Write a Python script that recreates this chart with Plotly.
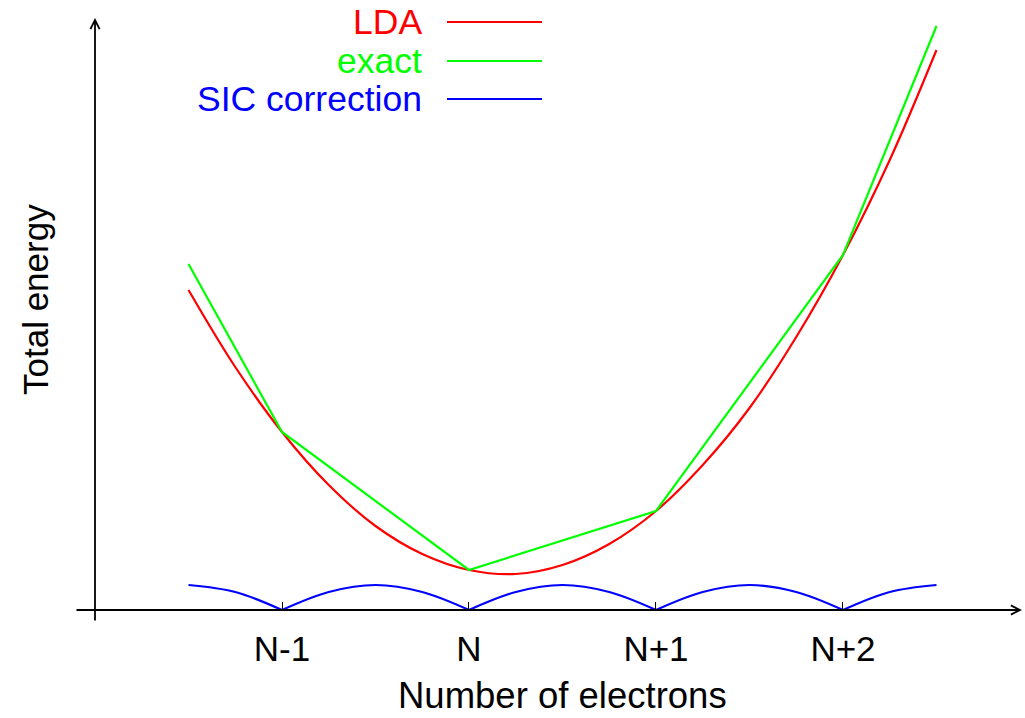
import plotly.graph_objects as go

# Number of electrons, relative to N
lda_n = [-1.5, -1.25, -1.0, -0.75, -0.5, -0.25, 0.0, 0.25, 0.5, 0.75,
         1.0, 1.25, 1.5, 1.75, 2.0, 2.25, 2.5]
lda_e = [3.20, 2.43, 1.78, 1.25, 0.84, 0.56, 0.40, 0.36, 0.45, 0.66,
         0.99, 1.45, 2.02, 2.73, 3.55, 4.50, 5.60]

exact_n = [-1.5, -1.0, 0.0, 1.0, 2.0, 2.5]
exact_e = [3.46, 1.78, 0.40, 0.99, 3.55, 5.84]

# SIC correction arcs, one per segment between integer electron numbers
sic_n = [[-1.5, -1.25, -1.0],
         [-1.0, -0.75, -0.5, -0.25, 0.0],
         [0.0, 0.25, 0.5, 0.75, 1.0],
         [1.0, 1.25, 1.5, 1.75, 2.0],
         [2.0, 2.25, 2.5]]
sic_e = [[0.25, 0.18, 0.0],
         [0.0, 0.18, 0.25, 0.18, 0.0],
         [0.0, 0.18, 0.25, 0.18, 0.0],
         [0.0, 0.18, 0.25, 0.18, 0.0],
         [0.0, 0.18, 0.25]]

tick_vals = [-1, 0, 1, 2]
tick_text = ["N-1", "N", "N+1", "N+2"]

series_names = ["LDA", "exact", "SIC correction"]
series_colors = ["#ff0000", "#00ff00", "#0000ff"]

FONT = "Liberation Sans, Arial, sans-serif"
W, H = 1025, 718

# axis ranges chosen so that the plot area fills the whole page
X0, X1 = -2.508, 2.9733
Y0, Y1 = -1.08, 6.10

sic_x, sic_y = [], []
for xs, ys in zip(sic_n, sic_e):
    sic_x += xs + [None]
    sic_y += ys + [None]

fig = go.Figure()
fig.add_trace(go.Scatter(x=lda_n, y=lda_e, mode="lines", name=series_names[0],
                         line=dict(color=series_colors[0], width=2.2, shape="spline")))
fig.add_trace(go.Scatter(x=exact_n, y=exact_e, mode="lines", name=series_names[1],
                         line=dict(color=series_colors[1], width=2.2)))
fig.add_trace(go.Scatter(x=sic_x, y=sic_y, mode="lines", name=series_names[2],
                         connectgaps=False,
                         line=dict(color=series_colors[2], width=2.2, shape="spline")))


def px_x(p):
    return X0 + (X1 - X0) * p / W


def px_y(p):
    return Y1 - (Y1 - Y0) * p / H


annotations = []
# axis arrows
annotations.append(dict(x=px_x(1022), y=0, ax=px_x(75), ay=0, xref="x", yref="y",
                        axref="x", ayref="y", showarrow=True, arrowhead=5,
                        arrowwidth=1.8, arrowsize=1.0, arrowcolor="black", text=""))
annotations.append(dict(x=-2, y=px_y(18), ax=-2, ay=px_y(622), xref="x", yref="y",
                        axref="x", ayref="y", showarrow=True, arrowhead=5,
                        arrowwidth=1.8, arrowsize=1.0, arrowcolor="black", text=""))
# axis titles
annotations.append(dict(x=px_x(562), y=px_y(718), xref="x", yref="y",
                        xanchor="center", yanchor="bottom",
                        text="Number of electrons", showarrow=False,
                        font=dict(family=FONT, size=36.5, color="black")))
annotations.append(dict(x=px_x(35), y=px_y(300), xref="x", yref="y",
                        text="Total energy", showarrow=False, textangle=-90,
                        font=dict(family=FONT, size=35, color="black")))

# legend: labels right-aligned, line samples to their right
shapes = []
legend_y = [22, 61, 99]
for name, color, py in zip(series_names, series_colors, legend_y):
    annotations.append(dict(x=px_x(424), y=px_y(py), xref="x", yref="y",
                            xanchor="right", yanchor="middle", text=name,
                            showarrow=False,
                            font=dict(family=FONT, size=35.5, color=color)))
    shapes.append(dict(type="line", xref="x", yref="y",
                       x0=px_x(447), x1=px_x(542), y0=px_y(py), y1=px_y(py),
                       line=dict(color=color, width=2.2)))

fig.update_layout(
    width=W, height=H,
    margin=dict(l=0, r=0, t=0, b=0),
    paper_bgcolor="white", plot_bgcolor="white",
    showlegend=False,
    annotations=annotations,
    shapes=shapes,
    xaxis=dict(range=[X0, X1], anchor="free", position=108 / H,
               tickmode="array", tickvals=tick_vals, ticktext=tick_text,
               ticks="inside", ticklen=8, tickwidth=1, tickcolor="black",
               ticklabelstandoff=15,
               tickfont=dict(family=FONT, size=35, color="black"),
               showline=False, showgrid=False, zeroline=False, fixedrange=True),
    yaxis=dict(range=[Y0, Y1], visible=False, showgrid=False, zeroline=False,
               fixedrange=True),
)

fig.write_html("out.html")
